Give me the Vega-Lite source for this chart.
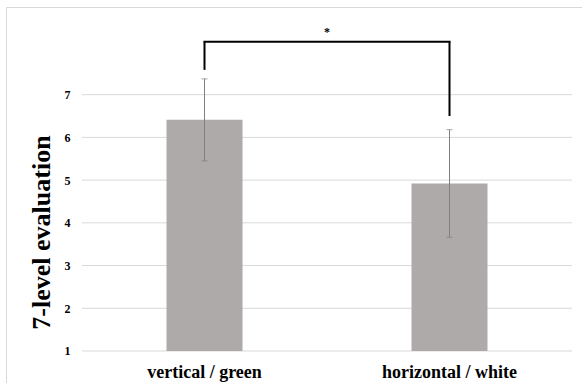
{
  "$schema": "https://vega.github.io/schema/vega-lite/v6.json",
  "width": 590,
  "height": 390,
  "autosize": {"type": "none"},
  "padding": {"left": 6, "top": 7, "right": -14, "bottom": -14},
  "background": "#ffffff",
  "config": {
    "view": {"stroke": "#d9d9d9", "strokeWidth": 1},
    "font": "Liberation Serif",
    "axisX": {"orient": "bottom", "offset": -20, "domain": false, "ticks": false, "tickSize": 0, "grid": false, "labelPadding": 0, "labelBaseline": "alphabetic", "labelFont": "Liberation Serif", "labelFontSize": 18, "labelFontWeight": "bold", "labelColor": "#000000", "labelAngle": 0},
    "axisY": {"offset": -65, "grid": false, "domain": false, "ticks": false, "tickSize": 0, "labelPadding": 1, "labelFont": "Liberation Serif", "labelFontWeight": "bold", "labelFontSize": 12, "labelColor": "#000000", "titleFont": "Liberation Serif", "titleFontWeight": "bold", "titleFontSize": 26, "titleColor": "#000000", "titleX": -22, "titleY": 225, "titleAngle": 270, "titleAlign": "center", "titleBaseline": "alphabetic"}
  },
  "datasets": {
    "bars": [
      {"condition": "vertical / green", "mean": 6.41, "lo": 5.45, "hi": 7.37},
      {"condition": "horizontal / white", "mean": 4.92, "lo": 3.66, "hi": 6.18}
    ],
    "grid": [{"level": 1}, {"level": 2}, {"level": 3}, {"level": 4}, {"level": 5}, {"level": 6}, {"level": 7}],
    "bracketV": [
      {"condition": "vertical / green", "from": 7.58, "to": 8.24},
      {"condition": "horizontal / white", "from": 6.5, "to": 8.24}
    ],
    "bracketH": [{"from": "vertical / green", "to": "horizontal / white", "level": 8.24, "label": "*", "labelLevel": 8.37}]
  },
  "layer": [
    {
      "data": {"name": "grid"},
      "mark": {"type": "rule", "color": "#d9d9d9", "strokeWidth": 1},
      "encoding": {
        "x": {"datum": "vertical / green", "bandPosition": 0, "type": "nominal",
          "scale": {"domain": ["vertical / green", "horizontal / white"], "range": [76, 566], "paddingInner": 0, "paddingOuter": 0},
          "title": null},
        "x2": {"datum": "horizontal / white", "bandPosition": 1},
        "y": {"field": "level", "type": "quantitative",
          "scale": {"domain": [-0.0768, 9.052], "nice": false, "zero": false},
          "axis": {"values": [1, 2, 3, 4, 5, 6, 7]},
          "title": "7-level evaluation"}
      }
    },
    {
      "data": {"name": "bars"},
      "mark": {"type": "bar", "color": "#aeaaaa", "size": 76},
      "encoding": {
        "x": {"field": "condition", "type": "nominal", "title": null},
        "y": {"field": "mean", "type": "quantitative", "title": "7-level evaluation", "axis": {"values": [1, 2, 3, 4, 5, 6, 7]}},
        "y2": {"datum": 1}
      }
    },
    {
      "data": {"name": "bars"},
      "mark": {"type": "rule", "color": "#7f7f7f", "strokeWidth": 1},
      "encoding": {
        "x": {"field": "condition", "type": "nominal", "title": null},
        "y": {"field": "lo", "type": "quantitative", "title": "7-level evaluation", "axis": {"values": [1, 2, 3, 4, 5, 6, 7]}},
        "y2": {"field": "hi"}
      }
    },
    {
      "data": {"name": "bars"},
      "mark": {"type": "tick", "color": "#7f7f7f", "orient": "horizontal", "size": 6, "thickness": 1},
      "encoding": {
        "x": {"field": "condition", "type": "nominal", "title": null},
        "y": {"field": "lo", "type": "quantitative", "title": "7-level evaluation", "axis": {"values": [1, 2, 3, 4, 5, 6, 7]}}
      }
    },
    {
      "data": {"name": "bars"},
      "mark": {"type": "tick", "color": "#7f7f7f", "orient": "horizontal", "size": 6, "thickness": 1},
      "encoding": {
        "x": {"field": "condition", "type": "nominal", "title": null},
        "y": {"field": "hi", "type": "quantitative", "title": "7-level evaluation", "axis": {"values": [1, 2, 3, 4, 5, 6, 7]}}
      }
    },
    {
      "data": {"name": "bracketV"},
      "mark": {"type": "rule", "color": "#000000", "strokeWidth": 2},
      "encoding": {
        "x": {"field": "condition", "type": "nominal", "title": null},
        "y": {"field": "from", "type": "quantitative", "title": "7-level evaluation", "axis": {"values": [1, 2, 3, 4, 5, 6, 7]}},
        "y2": {"field": "to"}
      }
    },
    {
      "data": {"name": "bracketH"},
      "mark": {"type": "rule", "color": "#000000", "strokeWidth": 2, "strokeCap": "square"},
      "encoding": {
        "x": {"field": "from", "type": "nominal", "bandPosition": 0.5, "title": null},
        "x2": {"field": "to", "bandPosition": 0.5},
        "y": {"field": "level", "type": "quantitative", "title": "7-level evaluation", "axis": {"values": [1, 2, 3, 4, 5, 6, 7]}}
      }
    },
    {
      "data": {"name": "bracketH"},
      "mark": {"type": "text", "font": "Liberation Serif", "fontSize": 12, "fontWeight": "bold", "color": "#000000", "baseline": "alphabetic", "align": "center"},
      "encoding": {
        "x": {"field": "from", "type": "nominal", "bandPosition": 1, "title": null},
        "y": {"field": "labelLevel", "type": "quantitative", "title": "7-level evaluation", "axis": {"values": [1, 2, 3, 4, 5, 6, 7]}},
        "text": {"field": "label"}
      }
    }
  ]
}
